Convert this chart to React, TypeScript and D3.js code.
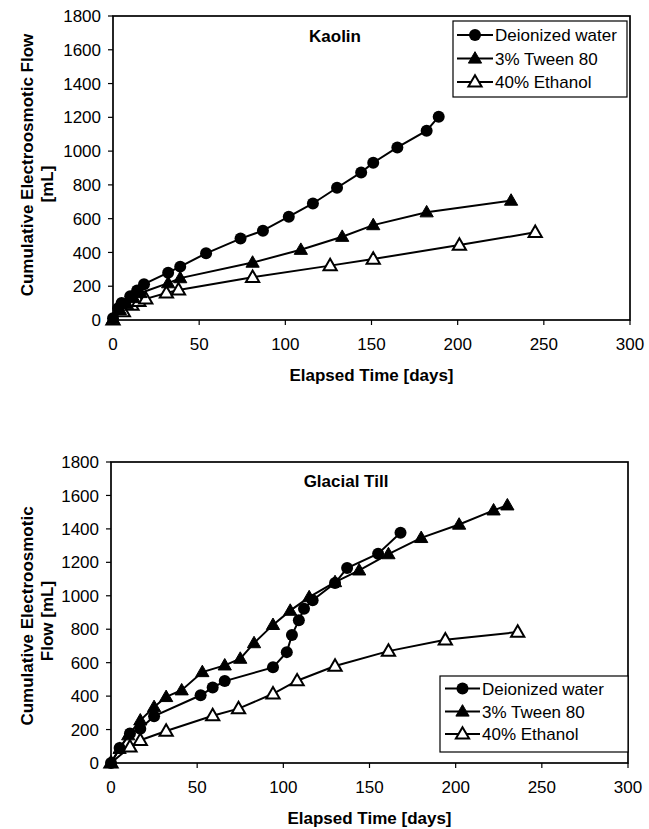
import React from "react";
import * as d3 from "d3";

// ---------- data ----------
const xTickValues = [0, 50, 100, 150, 200, 250, 300];
const yTickValues = [0, 200, 400, 600, 800, 1000, 1200, 1400, 1600, 1800];
const seriesNames = ["Deionized water", "3% Tween 80", "40% Ethanol"];

// Kaolin: [elapsed days, cumulative flow mL]
const kaolinWater: [number, number][] = [
  [0, 10], [3, 70], [5, 100], [10, 140], [14, 175], [18, 212], [32, 280], [39, 316],
  [54, 395], [74, 482], [87, 529], [102, 612], [116, 690], [130, 783], [144, 874],
  [151, 931], [165, 1022], [182, 1121], [189, 1204],
];
const kaolinTween: [number, number][] = [
  [0, 5], [4, 60], [8, 95], [12, 130], [16, 160], [32, 218], [39, 248], [81, 340],
  [109, 416], [133, 493], [151, 562], [182, 638], [231, 707],
];
const kaolinEthanol: [number, number][] = [
  [0, 0], [6, 50], [11, 88], [15, 110], [19, 125], [31, 160], [38, 178], [81, 253],
  [126, 322], [151, 361], [201, 444], [245, 519],
];

// Glacial Till
const tillWater: [number, number][] = [
  [0, 0], [5, 90], [11, 176], [17, 205], [25, 280], [52, 405], [59, 451], [66, 490],
  [94, 572], [102, 663], [105, 765], [109, 853], [112, 923], [117, 973], [130, 1076],
  [137, 1166], [155, 1252], [168, 1377],
];
const tillTween: [number, number][] = [
  [0, 0], [5, 85], [10, 166], [17, 255], [25, 335], [32, 395], [41, 435], [53, 544],
  [66, 584], [75, 624], [83, 717], [94, 826], [104, 911], [115, 992], [130, 1082],
  [144, 1152], [161, 1249], [180, 1346], [202, 1426], [222, 1511], [230, 1541],
];
const tillEthanol: [number, number][] = [
  [0, 0], [11, 96], [17, 136], [32, 191], [59, 283], [74, 325], [94, 414], [108, 492],
  [130, 580], [161, 669], [194, 737], [236, 783],
];

const FONT = "'Liberation Sans', Arial, Helvetica, sans-serif";
const FS = 17;
const markerTypes = ["circle", "filledTri", "openTri"] as const;

function Marker({ type, x, y }: { type: string; x: number; y: number }) {
  if (type === "circle") {
    return <circle cx={x} cy={y} r={6} fill="#000" />;
  }
  const path = d3.symbol().type(d3.symbolTriangle).size(76)()!;
  return (
    <path
      d={path}
      transform={`translate(${x},${y + 0.8})`}
      fill={type === "filledTri" ? "#000" : "#fff"}
      stroke="#000"
      strokeWidth={type === "filledTri" ? 1 : 2}
      strokeLinejoin="miter"
    />
  );
}

type PanelProps = {
  left: number; right: number; top: number; bottom: number;
  title: string; titleX: number; titleY: number;
  series: [number, number][][];
  legend: { x0: number; x1: number; y0: number; y1: number; rows: number[]; lineX0: number; lineX1: number; textX: number };
  yTitleLines: { text: string; x: number; y: number }[];
};

function Panel(p: PanelProps) {
  const x = d3.scaleLinear().domain([0, 300]).range([p.left, p.right]);
  const y = d3.scaleLinear().domain([0, 1800]).range([p.bottom, p.top]);
  const line = d3.line<[number, number]>().x((d) => x(d[0])).y((d) => y(d[1]));
  return (
    <g>
      {p.series.map((s, i) => (
        <path key={"l" + i} d={line(s)!} fill="none" stroke="#000" strokeWidth={2} />
      ))}
      {[2, 1, 0].map((i) =>
        p.series[i].map((d, j) => (
          <Marker key={`m${i}-${j}`} type={markerTypes[i]} x={x(d[0])} y={y(d[1])} />
        ))
      )}
      <rect x={p.left} y={p.top} width={p.right - p.left} height={p.bottom - p.top}
        fill="none" stroke="#000" strokeWidth={1.7} />
      {yTickValues.map((v) => (
        <g key={"y" + v}>
          <line x1={p.left - 5} x2={p.left} y1={y(v)} y2={y(v)} stroke="#000" strokeWidth={1.2} />
          <text x={p.left - 12} y={y(v)} dy="0.36em" textAnchor="end" fontSize={FS} fontFamily={FONT}>{v}</text>
        </g>
      ))}
      {xTickValues.map((v) => (
        <g key={"x" + v}>
          <line x1={x(v)} x2={x(v)} y1={p.bottom} y2={p.bottom + 5} stroke="#000" strokeWidth={1.2} />
          <text x={x(v)} y={p.bottom + 30} textAnchor="middle" fontSize={FS} fontFamily={FONT}>{v}</text>
        </g>
      ))}
      <text x={(p.left + p.right) / 2} y={p.bottom + 61} textAnchor="middle" fontSize={FS}
        fontWeight="bold" fontFamily={FONT}>Elapsed Time [days]</text>
      {p.yTitleLines.map((l, i) => (
        <text key={"yt" + i} transform={`translate(${l.x},${l.y}) rotate(-90)`} textAnchor="middle"
          dy="0.36em" fontSize={FS} fontWeight="bold" fontFamily={FONT}>{l.text}</text>
      ))}
      <text x={p.titleX} y={p.titleY} textAnchor="middle" fontSize={FS} fontWeight="bold" fontFamily={FONT}>{p.title}</text>
      <rect x={p.legend.x0} y={p.legend.y0} width={p.legend.x1 - p.legend.x0} height={p.legend.y1 - p.legend.y0}
        fill="#fff" stroke="#000" strokeWidth={1.2} />
      {seriesNames.map((n, i) => {
        const ry = p.legend.rows[i];
        const cx = (p.legend.lineX0 + p.legend.lineX1) / 2;
        return (
          <g key={"lg" + i}>
            <line x1={p.legend.lineX0} x2={p.legend.lineX1} y1={ry} y2={ry} stroke="#000" strokeWidth={2} />
            <Marker type={markerTypes[i]} x={cx} y={ry} />
            <text x={p.legend.textX} y={ry} dy="0.36em" fontSize={FS} fontFamily={FONT}>{n}</text>
          </g>
        );
      })}
    </g>
  );
}

export default function App() {
  return (
    <svg width={649} height={829} viewBox="0 0 649 829"
      style={{ position: "absolute", left: 0, top: 0, background: "#fff" }}>
      <rect x={0} y={0} width={649} height={829} fill="#fff" />
      <Panel
        left={113} right={630} top={16} bottom={320}
        title="Kaolin" titleX={335} titleY={42}
        series={[kaolinWater, kaolinTween, kaolinEthanol]}
        legend={{ x0: 453, x1: 627, y0: 21, y1: 97, rows: [35, 58.5, 82], lineX0: 457, lineX1: 493, textX: 495 }}
        yTitleLines={[
          { text: "Cumulative Electroosmotic Flow", x: 27, y: 165 },
          { text: "[mL]", x: 47, y: 184 },
        ]}
      />
      <Panel
        left={111} right={628} top={462} bottom={763}
        title="Glacial Till" titleX={346} titleY={487}
        series={[tillWater, tillTween, tillEthanol]}
        legend={{ x0: 440, x1: 628, y0: 676, y1: 752, rows: [688.5, 711.5, 734], lineX0: 445, lineX1: 480, textX: 482 }}
        yTitleLines={[
          { text: "Cumulative Electroosmotic", x: 27, y: 616 },
          { text: "Flow [mL]", x: 47, y: 621 },
        ]}
      />
    </svg>
  );
}
